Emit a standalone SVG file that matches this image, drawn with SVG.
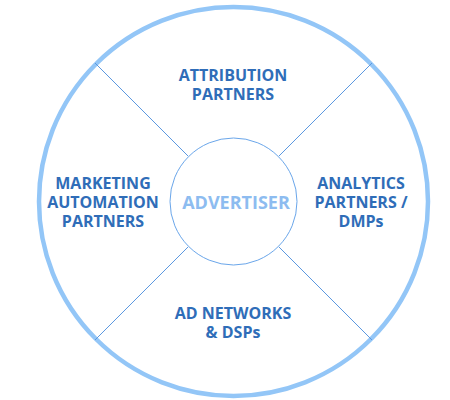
<svg xmlns="http://www.w3.org/2000/svg" width="450" height="400" viewBox="0 0 450 400">
<style>
.lbl{font-family:"Open Sans","Liberation Sans",sans-serif;font-weight:bold;font-size:16px;fill:#2f6db8;text-anchor:middle}
.ctr{font-family:"Open Sans","Liberation Sans",sans-serif;font-weight:bold;font-size:18px;fill:#8dbcf0;text-anchor:middle}
.conn{stroke:#5b98e0;stroke-width:1;fill:none}
</style>
<rect width="450" height="400" fill="#ffffff"/>
<g id="outer"><circle cx="233.5" cy="201.5" r="194.5" fill="none" stroke="#93c6f7" stroke-width="4.5"/></g>
<g id="connectors">
<line class="conn" x1="95" y1="63" x2="188.5" y2="156.5"/>
<line class="conn" x1="372" y1="63" x2="278.5" y2="156.5"/>
<line class="conn" x1="95" y1="340" x2="188.5" y2="246.5"/>
<line class="conn" x1="372" y1="340" x2="278.5" y2="246.5"/>
</g>
<g id="advertiser"><circle cx="233.5" cy="201.5" r="63.5" fill="#ffffff" stroke="#6aa6ea" stroke-width="1"/><text class="ctr" x="236" y="208.5">ADVERTISER</text></g>
<g id="attribution"><text class="lbl" x="233" y="80.5">ATTRIBUTION</text><text class="lbl" x="233" y="99.5">PARTNERS</text></g>
<g id="marketing"><text class="lbl" x="103" y="188.5">MARKETING</text><text class="lbl" x="103" y="207.5">AUTOMATION</text><text class="lbl" x="103" y="226.5">PARTNERS</text></g>
<g id="analytics"><text class="lbl" x="361" y="188.5">ANALYTICS</text><text class="lbl" x="361" y="207.5">PARTNERS /</text><text class="lbl" x="361" y="226.5">DMPs</text></g>
<g id="adnetworks"><text class="lbl" x="233" y="318.5">AD NETWORKS</text><text class="lbl" x="233" y="337.5">&amp; DSPs</text></g>
</svg>
